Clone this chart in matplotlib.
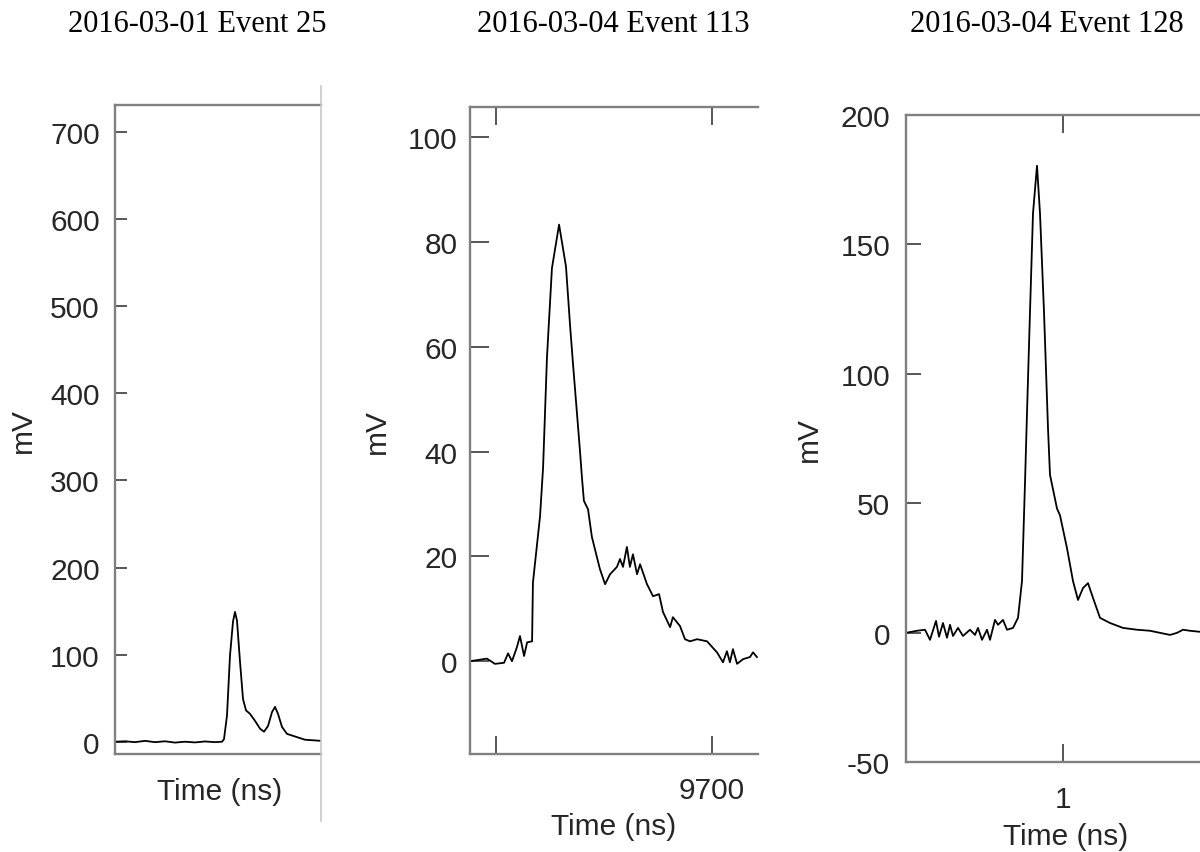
# Three scope traces, cropped side by side
import matplotlib
matplotlib.use("Agg")
import matplotlib.pyplot as plt
from matplotlib.lines import Line2D

plt.rcParams['axes.unicode_minus'] = False

# %%
# Data
titles = ['2016-03-01 Event 25', '2016-03-04 Event 113', '2016-03-04 Event 128']

# Event 25 (no time ticks shown)
t1 = [0, 5, 10, 15, 20, 25, 30, 35, 40, 45, 50, 53.5, 54.5, 56, 57.5, 59,
      60, 61, 62.5, 64, 65.5, 67.5, 70, 72.5, 74.5, 76.5, 78.5, 80, 81.5,
      83.5, 86, 90, 95, 103]
v1 = [0, 0.5, -0.5, 1, -0.5, 0.5, -1, 0, -0.8, 0.3, -0.5, 0, 3, 30, 99,
      138, 149, 139, 92, 49, 36, 32, 24, 15, 11.5, 18, 34, 40, 32, 17, 9, 6,
      2.3, 1]

# Event 113
t2 = [9588.0, 9595.8, 9599.5, 9603.7, 9605.6, 9607.4, 9609.7, 9611.1,
      9613.0, 9614.4, 9616.7, 9617.1, 9620.4, 9621.8, 9623.6, 9625.9,
      9629.2, 9632.4, 9634.3, 9635.6, 9638.9, 9639.8, 9640.7, 9642.6,
      9644.4, 9648.1, 9650.5, 9652.8, 9656.0, 9657.4, 9658.8, 9660.6,
      9662.0, 9663.4, 9665.3, 9666.7, 9669.9, 9672.7, 9675.5, 9677.3,
      9680.6, 9681.9, 9685.2, 9687.5, 9689.8, 9693.1, 9697.7, 9702.3,
      9705.1, 9706.9, 9708.3, 9709.7, 9711.6, 9714.4, 9717.6, 9719.0,
      9720.8]
v2 = [0, 0.5, -0.5, -0.3, 1.5, 0, 2.7, 4.8, 1, 3.6, 3.8, 15, 27.7, 37, 58,
      75, 83.3, 75.3, 64, 57, 40, 35, 30.6, 29, 23.7, 17.6, 14.7, 16.6, 18,
      19.5, 18, 21.8, 18, 20.4, 16.6, 18.5, 14.7, 12.4, 12.8, 9.4, 6.5, 8.4,
      6.7, 4.2, 3.8, 4.2, 3.8, 1.7, -0.2, 1.9, -0.2, 2.3, -0.5, 0.4, 0.8,
      1.7, 0.8]

# Event 128
t3 = [0.6075, 0.635, 0.655, 0.6675, 0.6825, 0.69, 0.70, 0.71, 0.7175,
      0.725, 0.7375, 0.75, 0.7675, 0.78, 0.7875, 0.7975, 0.81, 0.8175, 0.83,
      0.8375, 0.85, 0.86, 0.875, 0.8875, 0.8975, 0.905, 0.91, 0.9175, 0.925,
      0.935, 0.9425, 0.9525, 0.9625, 0.9675, 0.985, 0.9925, 1.01, 1.025,
      1.0375, 1.05, 1.0625, 1.075, 1.0925, 1.1175, 1.15, 1.185, 1.2175,
      1.2425, 1.2675, 1.285, 1.30, 1.3175, 1.3425]
v3 = [0, 0.8, 1.2, -2.7, 4.6, -1.5, 3.8, -1.9, 3.1, -1.2, 1.9, -1.2, 1.2,
      -0.8, 1.9, -2.7, 1.2, -2.7, 5, 3.1, 5, 1.2, 1.9, 5.8, 20, 58, 85, 124,
      162, 180.4, 162, 124, 79, 61, 48, 45.4, 32.7, 20, 12.7, 17.3, 19.2,
      13.5, 5.8, 3.8, 1.9, 1.2, 0.8, 0, -0.8, 0, 1.2, 0.8, 0.4]

yticks1 = [0, 100, 200, 300, 400, 500, 600, 700]
yticks2 = [0, 20, 40, 60, 80, 100]
yticks3 = [-50, 0, 50, 100, 150, 200]
xticks2 = [9600, 9700]
xlabels2 = ['', '9700']
xticks3 = [1]
xlabels3 = ['1']

# %%
W, H = 1200, 853
fig = plt.figure(figsize=(12, 8.53), dpi=100)

spine_col = '#808080'
tick_col = '#3a3a3a'
text_col = '#262626'
sans = 'Liberation Sans'
fs = 21.5


def px_axes(left, top, right, bottom):
    return fig.add_axes([left / W, (H - bottom) / H,
                         (right - left) / W, (bottom - top) / H])


def style(ax, ylen, xlen, ypad, xpad):
    for s in ['left', 'top', 'bottom', 'right']:
        ax.spines[s].set_color(spine_col)
        ax.spines[s].set_linewidth(1.7)
    ax.spines['right'].set_visible(False)
    ax.tick_params(axis='y', direction='in', length=ylen, width=1.2,
                   color=tick_col, labelcolor=text_col, labelsize=fs,
                   pad=ypad, left=True, right=False)
    ax.tick_params(axis='x', direction='in', length=xlen, width=1.2,
                   color=tick_col, labelcolor=text_col, labelsize=fs,
                   pad=xpad, top=True, bottom=True)
    for lab in ax.get_xticklabels() + ax.get_yticklabels():
        lab.set_family(sans)


# Panel 1
ax1 = px_axes(115, 105.7, 321, 755)
ax1.plot(t1, v1, color='black', lw=1.3)
ax1.set_xlim(0, 103)
ax1.set_ylim(-14.1, 731.4)
ax1.set_yticks(yticks1)
ax1.set_xticks([])
style(ax1, 8.5, 0, 11, 10)

# Panel 2
ax2 = px_axes(470, 107.7, 758, 755)
ax2.plot(t2, v2, color='black', lw=1.3)
ax2.set_xlim(9587.96, 9721.3)
ax2.set_ylim(-17.7, 105.8)
ax2.set_yticks(yticks2)
ax2.set_xticks(xticks2)
ax2.set_xticklabels(xlabels2)
style(ax2, 14, 13, 9, 16)

# Panel 3
ax3 = px_axes(906, 116, 1200, 763.3)
ax3.plot(t3, v3, color='black', lw=1.3)
ax3.set_xlim(0.6075, 1.3425)
ax3.set_ylim(-50, 200)
ax3.set_yticks(yticks3)
ax3.set_xticks(xticks3)
ax3.set_xticklabels(xlabels3)
style(ax3, 11, 13, 11.5, 16)

# axis labels
label_pos = [(ax1, 0.51, -0.035, -0.379), (ax2, 0.498, -0.0896, -0.274),
             (ax3, 0.544, -0.0922, -0.282)]
for ax, xx, xy, yx in label_pos:
    ax.set_xlabel('Time (ns)', family=sans, fontsize=fs, color=text_col)
    ax.xaxis.set_label_coords(xx, xy)
    ax.set_ylabel('mV', family=sans, fontsize=fs, color=text_col)
    ax.yaxis.set_label_coords(yx, 0.5)

# titles
for cx, title in zip([197.5, 613.5, 1046.5], titles):
    fig.text(cx / W, (H - 32) / H, title, ha='center', va='baseline',
             family='Liberation Serif', fontsize=22, color='black')

# light separator where the first screenshot was cropped
fig.add_artist(Line2D([321 / W, 321 / W], [(H - 822) / H, (H - 87) / H],
                      transform=fig.transFigure, color='#c8c8c8', lw=1.2))

fig.savefig('out.png', dpi=100)
